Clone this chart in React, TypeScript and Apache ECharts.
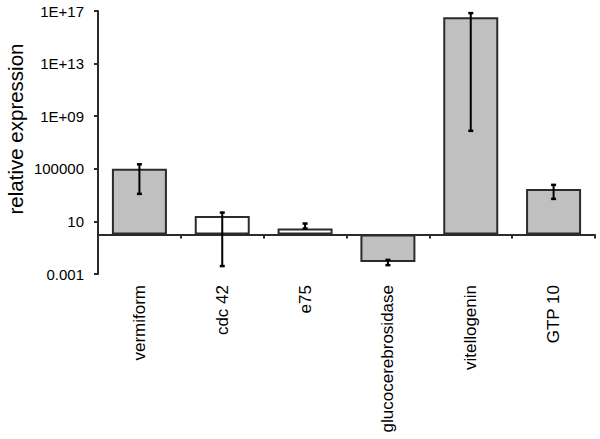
import React, { useEffect, useRef } from "react";
import * as echarts from "echarts";

const categories = ["vermiform", "cdc 42", "e75", "glucocerebrosidase", "vitellogenin", "GTP 10"];
const expression = [1.0e5, 26, 2.9, 0.0083, 3.4e16, 2960];
const errorLow = [1240, 0.004, 2.9, 0.0047, 7.7e7, 515];
const errorHigh = [2.2e5, 47, 6.9, 0.0118, 6.9e16, 6000];
const yTickValues = [0.001, 10, 100000, 1e9, 1e13, 1e17];
const yTickLabels = ["0.001", "10", "100000", "1E+09", "1E+13", "1E+17"];
const barFills = ["#c0c0c0", "#ffffff", "#ffffff", "#c0c0c0", "#c0c0c0", "#c0c0c0"];

const FONT = "'Liberation Sans', Arial, sans-serif";
const DARK = "#2b2b2b";

export default function App() {
  const ref = useRef<HTMLDivElement>(null);
  useEffect(() => {
    if (!ref.current) return;
    const chart = echarts.init(ref.current, null, { renderer: "svg" });
    const tickExp = yTickValues.map((v) => Math.round(Math.log10(v)));
    const option = {
      animation: false,
      grid: { left: 98, top: 11, width: 497, height: 263, containLabel: false, outerBoundsMode: "none" },
      graphic: [
        {
          type: "text",
          x: 15,
          y: 129,
          rotation: Math.PI / 2,
          style: {
            text: "relative expression",
            fontSize: 20.5,
            fontFamily: FONT,
            fill: "#000",
            align: "center",
            verticalAlign: "middle",
          },
        },
      ],
      xAxis: {
        type: "category",
        data: categories,
        axisLine: { show: true, onZero: true, lineStyle: { color: DARK, width: 2 } },
        axisTick: { show: true, length: 4, lineStyle: { color: DARK, width: 2 } },
        axisLabel: {
          rotate: 90,
          margin: 11,
          fontSize: 17,
          fontFamily: FONT,
          color: "#000",
          interval: 0,
        },
        splitLine: { show: false },
      },
      yAxis: {
        type: "value",
        min: tickExp[0],
        max: tickExp[tickExp.length - 1],
        axisLine: { show: true, lineStyle: { color: DARK, width: 2 } },
        axisTick: { show: true, length: 4, customValues: tickExp, lineStyle: { color: DARK, width: 2 } },
        axisLabel: {
          customValues: tickExp,
          margin: 14,
          fontSize: 15,
          fontFamily: FONT,
          color: "#000",
          formatter: (v: number) => {
            const i = tickExp.indexOf(Math.round(v));
            return i >= 0 ? yTickLabels[i] : "";
          },
        },
        splitLine: { show: false },
      },
      series: [
        {
          type: "bar",
          barWidth: 55,
          data: expression.map((v, i) => ({
            value: Math.log10(v),
            itemStyle: { color: barFills[i], borderColor: DARK, borderWidth: 2 },
          })),
        },
        {
          type: "custom",
          data: categories.map((_, i) => [i, Math.log10(errorLow[i]), Math.log10(errorHigh[i])]),
          renderItem: (params: any, api: any) => {
            const idx = api.value(0);
            const lo = api.coord([idx, api.value(1)]);
            const hi = api.coord([idx, api.value(2)]);
            const hw = 2.5;
            const style = { stroke: "#000", lineWidth: 2 };
            return {
              type: "group",
              children: [
                { type: "line", shape: { x1: lo[0], y1: lo[1], x2: hi[0], y2: hi[1] }, style },
                { type: "line", shape: { x1: hi[0] - hw, y1: hi[1], x2: hi[0] + hw, y2: hi[1] }, style: { stroke: "#000", lineWidth: 2.5 } },
                { type: "line", shape: { x1: lo[0] - hw, y1: lo[1], x2: lo[0] + hw, y2: lo[1] }, style: { stroke: "#000", lineWidth: 2.5 } },
              ],
            };
          },
          z: 5,
        },
      ],
    };
    chart.setOption(option as any);
    return () => chart.dispose();
  }, []);
  return (
    <div
      ref={ref}
      style={{ position: "fixed", left: 0, top: 0, width: 600, height: 439, background: "#fff" }}
    />
  );
}
